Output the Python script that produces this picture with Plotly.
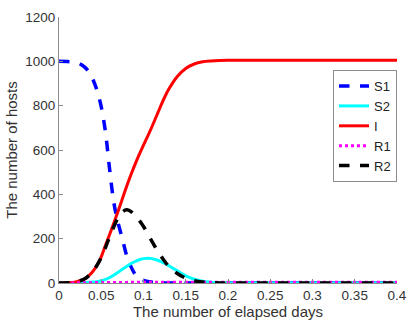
import plotly.graph_objects as go

days = [0, 0.01, 0.02, 0.025, 0.03, 0.035, 0.04, 0.045, 0.05, 0.055, 0.06, 0.065,
        0.07, 0.075, 0.08, 0.085, 0.09, 0.095, 0.1, 0.105, 0.11, 0.115, 0.12, 0.125,
        0.13, 0.14, 0.15, 0.16, 0.17, 0.18, 0.19, 0.2, 0.25, 0.3, 0.35, 0.4]

s1 = [1000, 999, 995, 988, 975, 955, 920, 868, 795, 680, 510, 360,
      270, 200, 125, 75, 40, 20, 12, 7, 4, 2, 1, 0.5,
      0, 0, 0, 0, 0, 0, 0, 0, 0, 0, 0, 0]

s2 = [0, 0, 0.5, 1, 1.5, 3, 4, 6, 10, 16, 25, 36,
      48, 62, 75, 87, 97, 105, 110, 112, 110, 105, 98, 89,
      78, 55, 32, 17, 8, 3, 1, 0, 0, 0, 0, 0]

i_ = [0, 1, 5, 10, 18, 32, 52, 80, 118, 170, 220, 272,
      325, 380, 435, 487, 535, 580, 622, 663, 705, 750, 795, 838,
      875, 932, 968, 988, 998, 1002, 1004, 1005, 1005, 1005, 1005, 1005]

r1 = [0, 0.2, 0.5, 0.8, 1, 1.3, 1.6, 1.8, 2, 2.2, 2.4, 2.5,
      2.6, 2.7, 2.8, 2.9, 3, 3, 3, 3, 3, 3, 3, 3,
      3, 3, 3, 3, 3, 3, 3, 3, 3, 3, 3, 3]

r2 = [0, 1, 5, 10, 18, 32, 52, 80, 115, 160, 210, 255,
      295, 320, 330, 323, 305, 282, 255, 222, 188, 155, 125, 98,
      75, 43, 22, 10, 4, 1.5, 0.5, 0, 0, 0, 0, 0]

xticks = [0, 0.05, 0.1, 0.15, 0.2, 0.25, 0.3, 0.35, 0.4]
xticktext = ["0", "0.05", "0.1", "0.15", "0.2", "0.25", "0.3", "0.35", "0.4"]
yticks = [0, 200, 400, 600, 800, 1000, 1200]

fig = go.Figure()
fig.add_trace(go.Scatter(x=days, y=s1, name="S1", mode="lines", line_shape="spline",
                         line=dict(color="#0000ff", width=3.5, dash="dash")))
fig.add_trace(go.Scatter(x=days, y=s2, name="S2", mode="lines", line_shape="spline",
                         line=dict(color="#00ffff", width=3, dash="solid")))
fig.add_trace(go.Scatter(x=days, y=i_, name="I", mode="lines", line_shape="spline",
                         line=dict(color="#ff0000", width=3)))
fig.add_trace(go.Scatter(x=days, y=r1, name="R1", mode="lines", line_shape="spline",
                         line=dict(color="#ff00ff", width=3, dash="dot")))
fig.add_trace(go.Scatter(x=days, y=r2, name="R2", mode="lines", line_shape="spline",
                         line=dict(color="#000000", width=3.5, dash="dash")))

axis_common = dict(showgrid=False, zeroline=False, showline=True, linecolor="#8c8c8c",
                   linewidth=1, ticks="inside", ticklen=4, tickcolor="#8c8c8c",
                   tickfont=dict(family="Liberation Sans, Arial, sans-serif", size=13.5, color="#333333"),
                   mirror=False)

fig.update_layout(
    width=417, height=329,
    margin=dict(l=59, r=11, t=10, b=46),
    paper_bgcolor="white", plot_bgcolor="white",
    font=dict(family="Liberation Sans, Arial, sans-serif", color="#333333"),
    xaxis=dict(range=[0, 0.4], tickvals=xticks, ticktext=xticktext,
               title=dict(text="The number of elapsed days", font=dict(size=15), standoff=2),
               **axis_common),
    yaxis=dict(range=[0, 1200], tickvals=yticks,
               title=dict(text="The number of hosts", font=dict(size=15), standoff=4),
               **axis_common),
    legend=dict(x=1, xanchor="right", y=0.59, yanchor="middle",
                bgcolor="white", bordercolor="#8c8c8c", borderwidth=1,
                font=dict(size=13, color="#222222"), tracegroupgap=0,
                itemwidth=30),
    showlegend=True,
)

fig.write_html("out.html")
